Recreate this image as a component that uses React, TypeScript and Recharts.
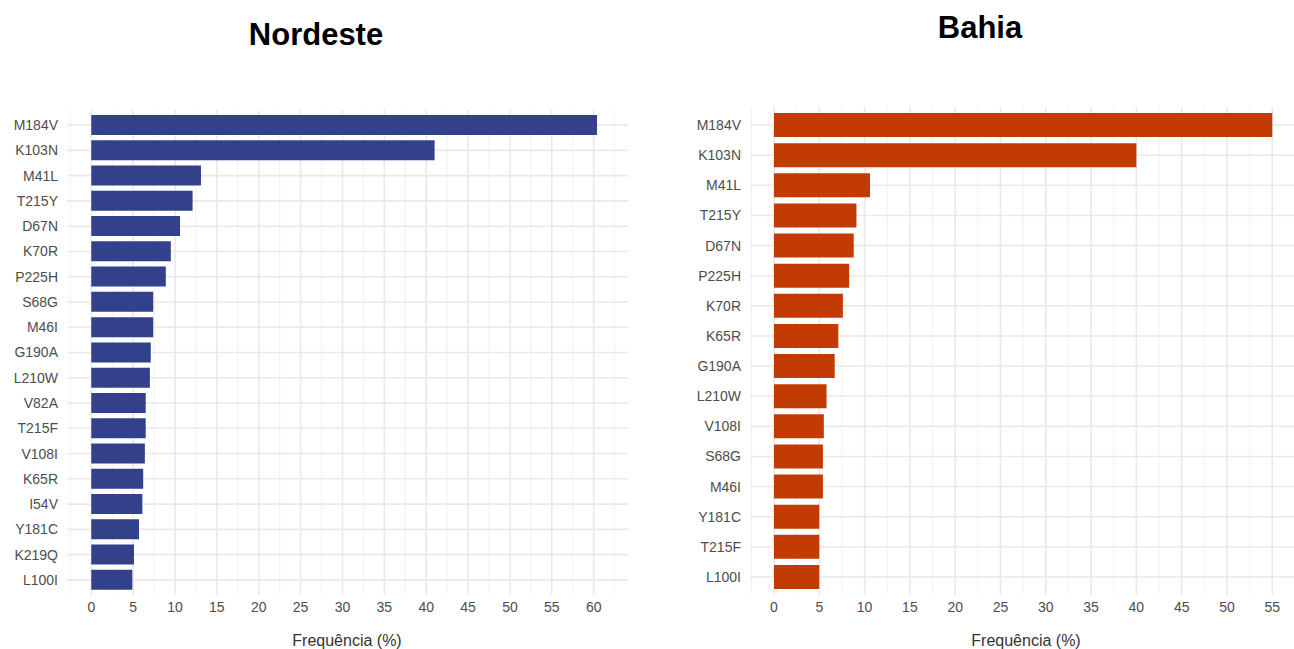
import React from 'react';
import { BarChart, Bar, XAxis, YAxis, CartesianGrid } from 'recharts';

// Nordeste (left panel)
const nordesteLabels = ['M184V', 'K103N', 'M41L', 'T215Y', 'D67N', 'K70R', 'P225H', 'S68G', 'M46I', 'G190A', 'L210W', 'V82A', 'T215F', 'V108I', 'K65R', 'I54V', 'Y181C', 'K219Q', 'L100I'];
const nordesteValues = [60.4, 41.0, 13.1, 12.1, 10.6, 9.5, 8.9, 7.4, 7.4, 7.1, 7.0, 6.5, 6.5, 6.4, 6.2, 6.1, 5.7, 5.1, 4.9];
const nordesteTicks = [0, 5, 10, 15, 20, 25, 30, 35, 40, 45, 50, 55, 60];
const nordesteMinor = [-2.5, 2.5, 7.5, 12.5, 17.5, 22.5, 27.5, 32.5, 37.5, 42.5, 47.5, 52.5, 57.5, 62.5];

// Bahia (right panel)
const bahiaLabels = ['M184V', 'K103N', 'M41L', 'T215Y', 'D67N', 'P225H', 'K70R', 'K65R', 'G190A', 'L210W', 'V108I', 'S68G', 'M46I', 'Y181C', 'T215F', 'L100I'];
const bahiaValues = [55.0, 40.0, 10.6, 9.1, 8.8, 8.3, 7.6, 7.1, 6.7, 5.8, 5.5, 5.4, 5.4, 5.0, 5.0, 5.0];
const bahiaTicks = [0, 5, 10, 15, 20, 25, 30, 35, 40, 45, 50, 55];
const bahiaMinor = [-2.5, 2.5, 7.5, 12.5, 17.5, 22.5, 27.5, 32.5, 37.5, 42.5, 47.5, 52.5];

const FONT = '"Liberation Sans", Arial, sans-serif';

interface PanelProps {
  labels: string[];
  values: number[];
  ticks: number[];
  minor: number[];
  domain: [number, number];
  color: string;
  width: number;
  height: number;
  yAxisWidth: number;
  top: number;
  right: number;
  pad: number;
}

const Panel: React.FC<PanelProps> = ({ labels, values, ticks, minor, domain, color, width, height, yAxisWidth, top, right, pad }) => {
  const data = labels.map((name, i) => ({ name, value: values[i] }));
  const tickStyle = { fill: '#4d4d4d', fontSize: 14, fontFamily: FONT };
  return (
    <BarChart
      width={width}
      height={height}
      data={data}
      layout="vertical"
      barCategoryGap="10%"
      margin={{ top, right, bottom: 0, left: 0 }}
    >
      <CartesianGrid xAxisId="minor" horizontal={false} syncWithTicks stroke="#f1f1f1" strokeWidth={1} />
      <CartesianGrid xAxisId="main" syncWithTicks stroke="#e9e9e9" strokeWidth={1.6} />
      <XAxis xAxisId="minor" type="number" hide domain={domain} ticks={minor} allowDataOverflow />
      <XAxis
        xAxisId="main"
        type="number"
        domain={domain}
        ticks={ticks}
        allowDataOverflow
        axisLine={false}
        tickLine={false}
        tickSize={0}
        tickMargin={7}
        height={54}
        tick={tickStyle}
      />
      <YAxis
        type="category"
        dataKey="name"
        width={yAxisWidth}
        axisLine={false}
        tickLine={false}
        tickSize={0}
        tickMargin={9}
        interval={0}
        padding={{ top: pad, bottom: pad }}
        tick={tickStyle}
      />
      <Bar xAxisId="main" dataKey="value" fill={color} isAnimationActive={false} />
    </BarChart>
  );
};

const App: React.FC = () => {
  const titleStyle: React.CSSProperties = {
    position: 'absolute',
    fontFamily: FONT,
    fontWeight: 'bold',
    fontSize: 31,
    color: '#000',
    transform: 'translateX(-50%)',
    whiteSpace: 'nowrap',
    lineHeight: '36px',
  };
  const axisTitleStyle: React.CSSProperties = {
    position: 'absolute',
    fontFamily: FONT,
    fontSize: 16,
    color: '#333',
    transform: 'translateX(-50%)',
    whiteSpace: 'nowrap',
    lineHeight: '18px',
  };

  return (
    <div
      style={{
        position: 'absolute',
        left: 0,
        top: 0,
        width: 1294,
        height: 649,
        overflow: 'hidden',
        background: '#fff',
      }}
    >
      <div style={{ ...titleStyle, left: 316, top: 17 }}>Nordeste</div>
      <div style={{ ...titleStyle, left: 980, top: 10 }}>Bahia</div>

      <div style={{ position: 'absolute', left: 0, top: 0 }}>
        <Panel
          labels={nordesteLabels}
          values={nordesteValues}
          ticks={nordesteTicks}
          minor={nordesteMinor}
          domain={[-2.9, 64.1]}
          color="#33418a"
          width={640}
          height={649}
          yAxisWidth={67}
          top={110}
          right={12}
          pad={2.5}
        />
      </div>
      <div style={{ position: 'absolute', left: 650, top: 0 }}>
        <Panel
          labels={bahiaLabels}
          values={bahiaValues}
          ticks={bahiaTicks}
          minor={bahiaMinor}
          domain={[-2.65, 57.4]}
          color="#c23b02"
          width={644}
          height={649}
          yAxisWidth={100}
          top={107}
          right={0}
          pad={3}
        />
      </div>

      <div style={{ ...axisTitleStyle, left: 347, top: 632 }}>Frequência (%)</div>
      <div style={{ ...axisTitleStyle, left: 1026, top: 632 }}>Frequência (%)</div>
    </div>
  );
};

export default App;
